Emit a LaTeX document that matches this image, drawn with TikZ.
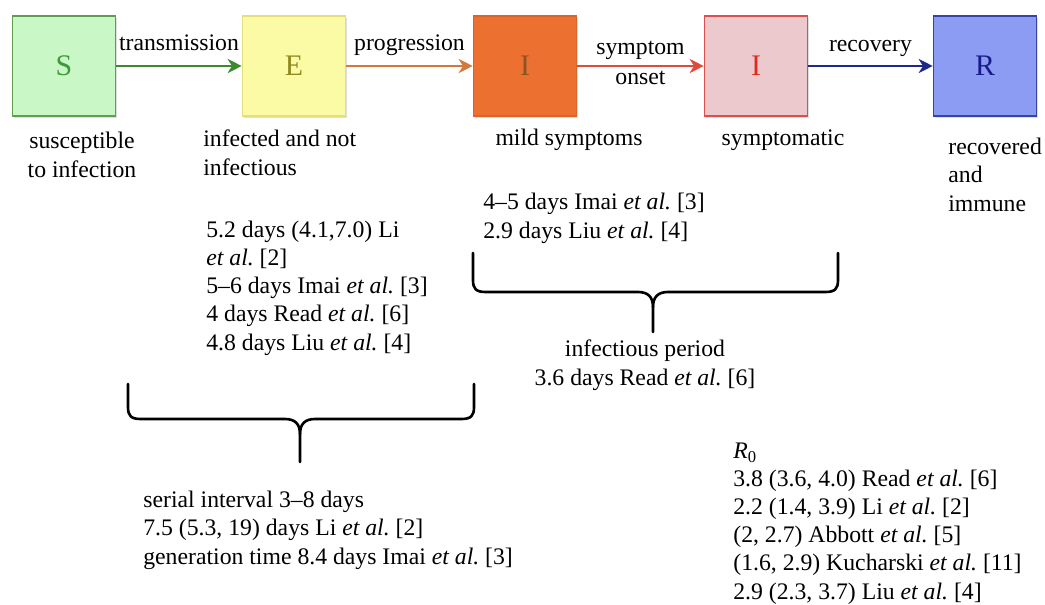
\documentclass[tikz,border=0pt]{standalone}
\usepackage{fontspec}
\setmainfont{Liberation Serif}
\usetikzlibrary{arrows.meta,shadows}
\frenchspacing

\definecolor{sfill}{HTML}{C9F7C5}
\definecolor{sdraw}{HTML}{5F9E50}
\definecolor{stext}{HTML}{3B9A3B}
\definecolor{sarrow}{HTML}{3D8A2E}
\definecolor{efill}{HTML}{FBFBA5}
\definecolor{edraw}{HTML}{E6DE7A}
\definecolor{etext}{HTML}{8F8A1F}
\definecolor{earrow}{HTML}{D4783C}
\definecolor{imfill}{HTML}{EC7030}
\definecolor{imdraw}{HTML}{D8662A}
\definecolor{imtext}{HTML}{8A5424}
\definecolor{imarrow}{HTML}{E04A3A}
\definecolor{isfill}{HTML}{ECC9CC}
\definecolor{isdraw}{HTML}{D9504F}
\definecolor{istext}{HTML}{E02A20}
\definecolor{isarrow}{HTML}{1C2A8C}
\definecolor{rfill}{HTML}{8C9CF2}
\definecolor{rdraw}{HTML}{3443A8}
\definecolor{rtext}{HTML}{1A1A8C}

\newcommand{\etal}{\textit{et al.}}

\begin{document}
\begin{tikzpicture}[x=0.02cm, y=-0.02cm,
  box/.style={draw, line width=0.9pt, minimum width=2.06cm, minimum height=2cm, inner sep=0pt,
    font=\fontsize{17}{19}\selectfont,
    drop shadow={opacity=0.25, shadow xshift=0.6pt, shadow yshift=-0.9pt}},
  txt/.style={inner sep=0pt, text=black, font=\fontsize{13.5}{16}\selectfont},
  lab/.style={txt, anchor=base},
  flow/.style={line width=1.7pt, -{Stealth[length=8pt, width=8pt, inset=2.5pt]}},
  curly/.style={line width=1.5pt, line cap=round, line join=round}]

\useasboundingbox (0,0) rectangle (1045,605);

\node[box, draw=sdraw, fill=sfill, text=stext] (S) at (64,66) {S};
\node[box, draw=edraw, fill=efill, text=etext] (E) at (294,66) {E};
\node[box, draw=imdraw, fill=imfill, text=imtext] (Im) at (525,66) {I};
\node[box, draw=isdraw, fill=isfill, text=istext] (Is) at (756,66) {I};
\node[box, draw=rdraw, fill=rfill, text=rtext] (R) at (985,66) {R};

\draw[flow, sarrow] (S) -- (E) node[lab, midway, yshift=8.8pt] {transmission};
\draw[flow, earrow] (E) -- (Im) node[lab, midway, yshift=8.8pt] {progression};
\draw[flow, imarrow] (Im) -- (Is) node[lab, midway, yshift=6.5pt] {symptom}
  node[lab, midway, yshift=-10.5pt] {onset};
\draw[flow, isarrow] (Is) -- (R) node[lab, midway, yshift=8.4pt] {recovery};

% multi-line texts: anchored at the baseline of their last line
\node[txt, align=center, anchor=base] (Slab) at (82,177) {susceptible\\to infection};
\node[txt, align=left, anchor=base west] (Elab) at (203,175) {infected and not\\infectious};
\node[txt, anchor=base] (Imlab) at (569,145) {mild symptoms};
\node[txt, anchor=base] (Islab) at (783,145) {symptomatic};
\node[txt, align=left, anchor=base west] (Rlab) at (948,211) {recovered\\and\\immune};

\node[txt, align=left, anchor=base west] (incub) at (206,350)
  {5.2 days (4.1,7.0) Li\\\etal{} [2]\\5--6 days Imai \etal{} [3]\\4 days Read \etal{} [6]\\4.8 days Liu \etal{} [4]};
\node[txt, align=left, anchor=base west] (infect) at (483,238)
  {4--5 days Imai \etal{} [3]\\2.9 days Liu \etal{} [4]};
\node[txt, align=center, anchor=base] (infper) at (645,385)
  {infectious period\\3.6 days Read \etal{} [6]};
\node[txt, align=left, anchor=base west] (serial) at (143,564)
  {serial interval 3--8 days\\7.5 (5.3, 19) days Li \etal{} [2]\\generation time 8.4 days Imai \etal{} [3]};
\node[txt, align=left, anchor=base west] (rnought) at (733,599)
  {\textit{R}\textsubscript{0}\\3.8 (3.6, 4.0) Read \etal{} [6]\\2.2 (1.4, 3.9) Li \etal{} [2]\\(2, 2.7) Abbott \etal{} [5]\\(1.6, 2.9) Kucharski \etal{} [11]\\2.9 (2.3, 3.7) Liu \etal{} [4]};

\draw[curly] (473,253) -- (473,280) .. controls (473,289) and (476,292) .. (486,292) -- (638,292)
  .. controls (648,292) and (653,297) .. (653,307) -- (653,332);
\draw[curly] (838,253) -- (838,280) .. controls (838,289) and (835,292) .. (825,292) -- (668,292)
  .. controls (658,292) and (653,297) .. (653,307);

\draw[curly] (128,384) -- (128,407) .. controls (128,416) and (131,419) .. (141,419) -- (285,419)
  .. controls (295,419) and (300,424) .. (300,434) -- (300,462);
\draw[curly] (474,384) -- (474,407) .. controls (474,416) and (471,419) .. (461,419) -- (315,419)
  .. controls (305,419) and (300,424) .. (300,434);
\end{tikzpicture}
\end{document}
